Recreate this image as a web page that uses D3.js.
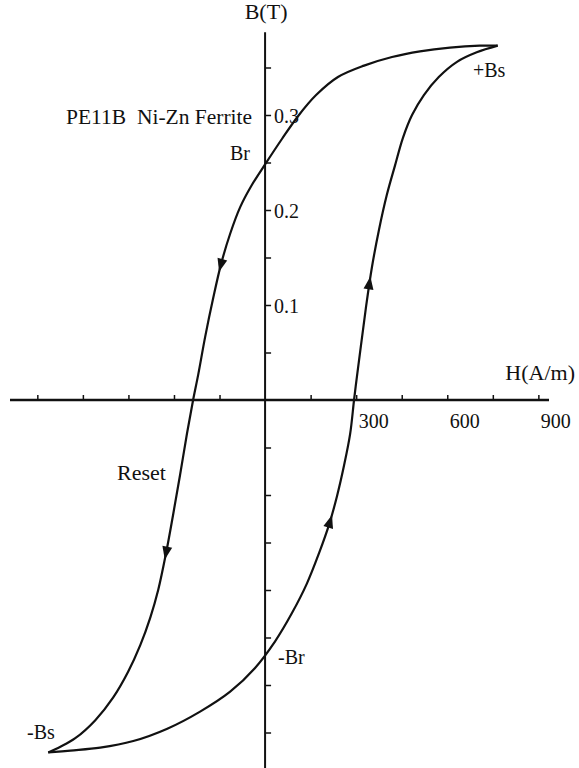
<!DOCTYPE html>
<html>
<head>
<meta charset="utf-8">
<script src="https://cdn.jsdelivr.net/npm/d3@7"></script>
<style>
  html, body { margin: 0; padding: 0; background: #fff; }
  svg { display: block; }
  text { font-family: "Liberation Serif", "Times New Roman", serif; fill: #111; }
</style>
</head>
<body>
<script>
// ---- Data (H in A/m, B in T) ----
// Descending branch: from +Bs down to -Bs (Reset)
const descH = [766, 707, 609, 510, 418, 326, 240, 168, 109, 56, 0, -46, -82, -115, -145, -171, -197, -220, -237, -257, -280, -303, -326, -352, -378, -411, -451, -500, -559, -625, -674, -714];
const descB = [0.373, 0.373, 0.371, 0.367, 0.361, 0.352, 0.340, 0.321, 0.299, 0.275, 0.248, 0.225, 0.203, 0.175, 0.143, 0.107, 0.067, 0.027, 0, -0.035, -0.079, -0.121, -0.161, -0.200, -0.229, -0.258, -0.286, -0.313, -0.337, -0.356, -0.365, -0.371];
// Ascending branch: from -Bs up to +Bs
const ascH = [-714, -641, -543, -434, -322, -214, -115, -33, 33, 89, 138, 178, 211, 237, 260, 280, 293, 303, 316, 332, 352, 375, 401, 428, 454, 484, 523, 572, 632, 697, 766];
const ascB = [-0.371, -0.369, -0.366, -0.359, -0.346, -0.328, -0.307, -0.282, -0.254, -0.224, -0.193, -0.161, -0.131, -0.101, -0.069, -0.036, 0, 0.026, 0.058, 0.097, 0.140, 0.179, 0.216, 0.247, 0.276, 0.300, 0.321, 0.340, 0.356, 0.366, 0.373];
// Arrow positions along each branch (B value where the arrowhead sits)
const descArrowB = [0.142, -0.161];
const ascArrowB = [-0.128, 0.123];

const xTicks = [-750, -600, -450, -300, -150, 150, 300, 450, 600, 750, 900];
const xTickLabels = ["300", "600", "900"];
const yTicks = [-0.35, -0.3, -0.25, -0.2, -0.15, -0.1, -0.05, 0.05, 0.1, 0.15, 0.2, 0.25, 0.3, 0.35];
const yTickLabels = ["0.1", "0.2", "0.3"];

const W = 579, H = 768;
const svg = d3.select("body").append("svg").attr("width", W).attr("height", H);

const x = d3.scaleLinear().domain([-840, 935]).range([10, 549]);
const y = d3.scaleLinear().domain([-0.4, 0.4]).range([780, 20]);

const ink = "#111";

// X axis: ticks pointing up, labels below
const xAxis = d3.axisBottom(x)
  .tickValues(xTicks)
  .tickSizeInner(-5)
  .tickSizeOuter(0)
  .tickPadding(14)
  .tickFormat(d => xTickLabels.includes(String(d)) ? String(d) : "");
const gx = svg.append("g").attr("transform", `translate(0,${y(0)})`).call(xAxis);
gx.select(".domain").remove();
gx.selectAll(".tick line").attr("stroke", ink).attr("stroke-width", 1.5);
gx.selectAll(".tick text")
  .attr("text-anchor", "start")
  .attr("x", 2)
  .attr("y", 14)
  .attr("font-size", 20)
  .attr("fill", ink);
svg.append("line")
  .attr("x1", x(-840)).attr("x2", x(935))
  .attr("y1", y(0)).attr("y2", y(0))
  .attr("stroke", ink).attr("stroke-width", 2.5);

// Y axis: ticks pointing right, labels right
const fmt1 = d3.format(".1f");
const yAxis = d3.axisRight(y)
  .tickValues(yTicks)
  .tickSizeInner(6)
  .tickSizeOuter(0)
  .tickPadding(3)
  .tickFormat(d => (Math.abs(d * 10 - Math.round(d * 10)) < 1e-6 && yTickLabels.includes(fmt1(d))) ? fmt1(d) : "");
const gy = svg.append("g").attr("transform", `translate(${x(0)},0)`).call(yAxis);
gy.select(".domain").remove();
gy.selectAll(".tick line").attr("stroke", ink).attr("stroke-width", 1.5);
gy.selectAll(".tick text")
  .attr("font-size", 20)
  .attr("fill", ink)
  .attr("dy", "0.35em");
svg.append("line")
  .attr("x1", x(0)).attr("x2", x(0))
  .attr("y1", y(0.387)).attr("y2", y(-0.4))
  .attr("stroke", ink).attr("stroke-width", 2);

// Axis titles
svg.append("text").attr("x", x(0) + 1).attr("y", 19).attr("text-anchor", "middle")
  .attr("font-size", 22).text("B(T)");
svg.append("text").attr("x", 575).attr("y", 380).attr("text-anchor", "end")
  .attr("font-size", 22).text("H(A/m)");

// Curves
const line = d3.line().x(d => x(d[0])).y(d => y(d[1])).curve(d3.curveCatmullRom.alpha(0.5));
const desc = descH.map((h, i) => [h, descB[i]]);
const asc = ascH.map((h, i) => [h, ascB[i]]);

function drawBranch(pts, arrowBs) {
  const path = svg.append("path").attr("d", line(pts))
    .attr("fill", "none").attr("stroke", ink).attr("stroke-width", 2.2)
    .attr("stroke-linejoin", "miter");
  const node = path.node();
  const L = node.getTotalLength();
  const samples = d3.range(0, L, 0.5).map(l => ({ l, p: node.getPointAtLength(l) }));
  arrowBs.forEach(b => {
    const py = y(b);
    let best = samples[0];
    samples.forEach(s => { if (Math.abs(s.p.y - py) < Math.abs(best.p.y - py)) best = s; });
    const a = node.getPointAtLength(Math.max(0, best.l - 4));
    const c = node.getPointAtLength(Math.min(L, best.l + 4));
    const ang = Math.atan2(c.y - a.y, c.x - a.x) * 180 / Math.PI;
    svg.append("path")
      .attr("d", "M7,0 L-6,-5 L-6,5 Z")
      .attr("fill", ink)
      .attr("transform", `translate(${best.p.x},${best.p.y}) rotate(${ang})`);
  });
}
drawBranch(desc, descArrowB);
drawBranch(asc, ascArrowB);

// Annotations
const ann = [
  { t: "PE11B\u00a0\u00a0Ni-Zn Ferrite", xp: 66, yp: 124, fs: 21.5 },
  { t: "Br", xp: 230, yp: 160, fs: 20 },
  { t: "+Bs", xp: 473, yp: 77, fs: 20 },
  { t: "-Br", xp: 278, yp: 664, fs: 20 },
  { t: "-Bs", xp: 27, yp: 739, fs: 20 },
  { t: "Reset", xp: 117, yp: 480, fs: 22 }
];
ann.forEach(a => svg.append("text").attr("x", a.xp).attr("y", a.yp).attr("font-size", a.fs).text(a.t));
</script>
</body>
</html>
